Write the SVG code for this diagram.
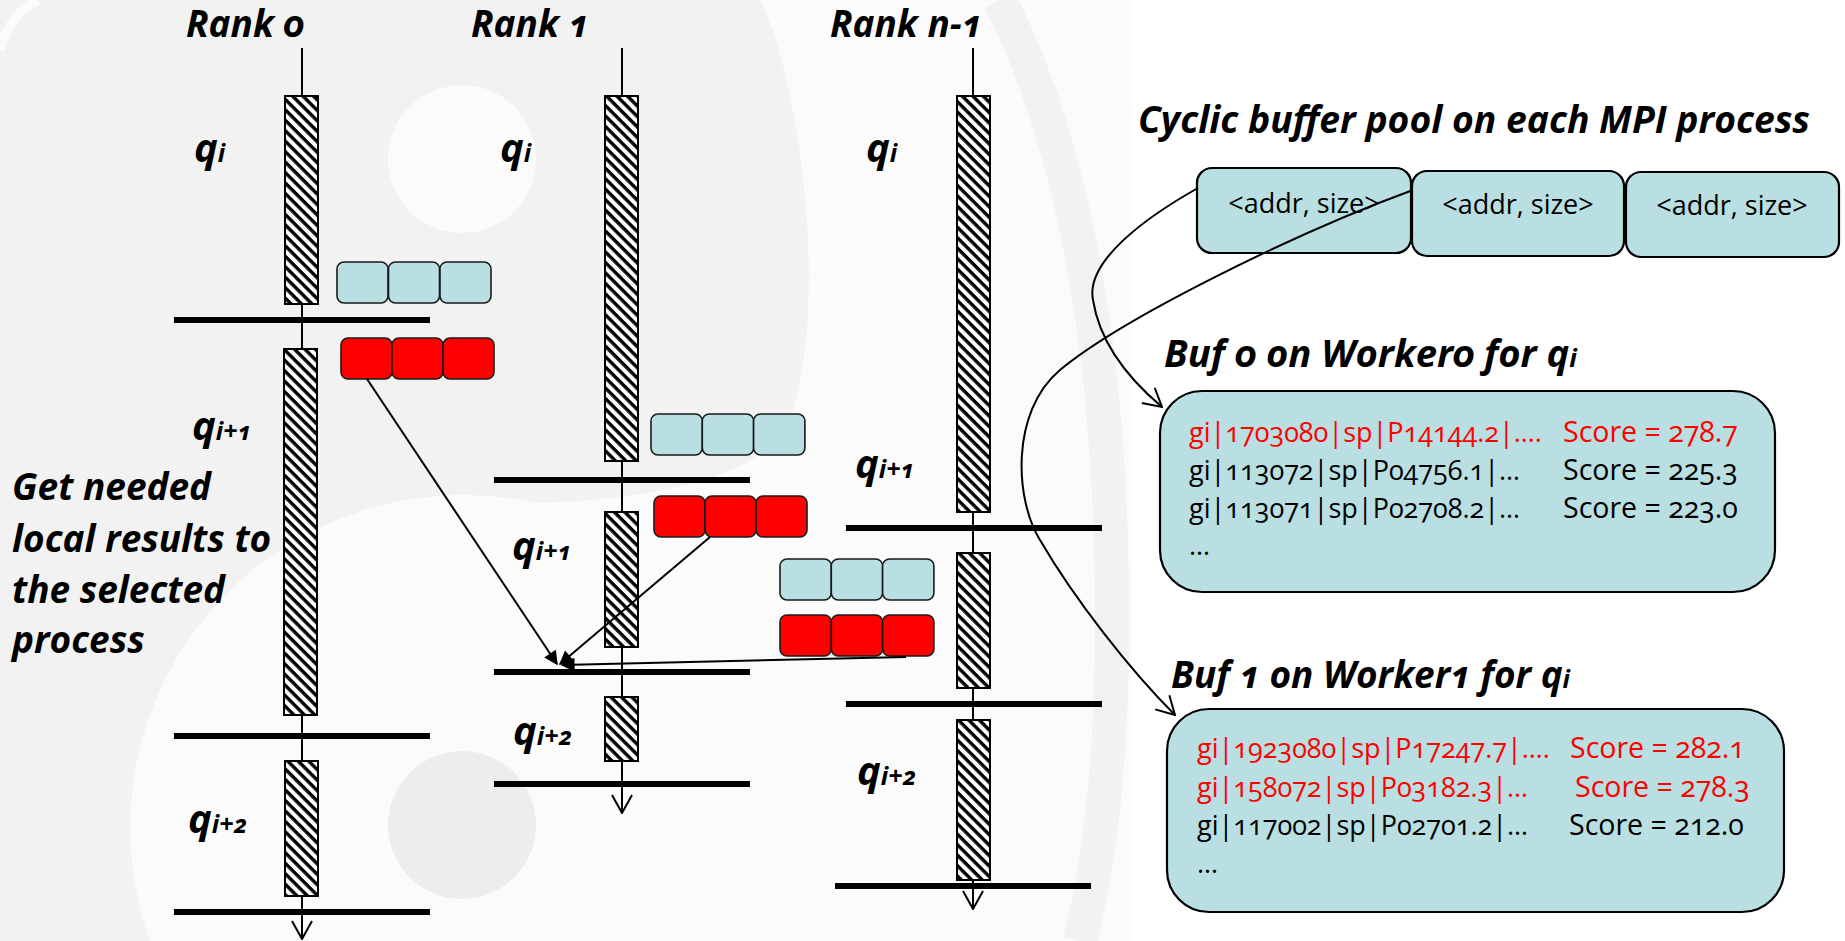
<svg xmlns="http://www.w3.org/2000/svg" width="1845" height="941" viewBox="0 0 1845 941">
<style>
.hd{font-family:"Open Sans","Liberation Sans",sans-serif;font-weight:700;font-style:italic;font-variant-numeric:oldstyle-nums;fill:#000}
.rank{font-size:37px}
.q{font-size:40px}
.sub{font-size:25px}
.note{font-size:37px}
.ttl{font-size:37px}
.body{font-family:"Open Sans","Liberation Sans",sans-serif;font-variant-numeric:oldstyle-nums;font-size:27px;fill:#000}
.score{font-size:28.5px}
.red{fill:#ff0000}
.lane{stroke:#000;stroke-width:2;fill:none}
.bar{fill:url(#hatch);stroke:#000;stroke-width:2}
.sync{stroke:#000;stroke-width:6}
.cyan{fill:#b9dfe2;stroke:#1a1a1a;stroke-width:1.6}
.redbox{fill:#ff0000;stroke:#1a1a1a;stroke-width:1.6}
.buf{fill:#b9dfe2;stroke:#000;stroke-width:2.2}
.link{stroke:#000;stroke-width:2;fill:none}
</style>
<defs>
<pattern id="hatch" width="7.4" height="7.4" patternUnits="userSpaceOnUse" patternTransform="rotate(45)">
<rect width="7.4" height="7.4" fill="#fff"/>
<rect width="7.4" height="3.4" fill="#000"/>
</pattern>
<marker id="vee" viewBox="0 0 20 22" refX="19" refY="11" markerWidth="20" markerHeight="22" markerUnits="userSpaceOnUse" orient="auto">
<path d="M1,1 L19,11 L1,21" fill="none" stroke="#000" stroke-width="2"/>
</marker>
<marker id="solid" viewBox="0 0 10 10" refX="9" refY="5" markerWidth="18" markerHeight="14" markerUnits="userSpaceOnUse" orient="auto">
<path d="M0,0 L10,5 L0,10 Z" fill="#000"/>
</marker>
</defs>

<!-- faint yin-yang backdrop on the left part of the slide -->
<g id="backdrop">
<rect x="0" y="0" width="1132" height="941" fill="#f2f2f2"/>
<path d="M760,0 C800,80 830,300 790,420 C760,480 650,500 536,503 A333,333 0 0 0 150,941 L1132,941 L1132,0 Z" fill="#fbfbfb"/>
<path d="M1000,0 C1075,150 1110,350 1112,600 C1113,760 1100,860 1080,941" fill="none" stroke="#f2f2f2" stroke-width="34"/>
<path d="M0,50 Q10,14 38,0" fill="none" stroke="#fbfbfb" stroke-width="10"/>
<circle cx="462" cy="159" r="74" fill="#fbfbfb"/>
<circle cx="462" cy="825" r="74" fill="#ededed"/>
</g>

<g id="rank0">
<text class="hd rank" x="245" y="37" text-anchor="middle">Rank 0</text>
<line class="lane" x1="302" y1="48" x2="302" y2="939" marker-end="url(#vee)"/>
<line class="sync" x1="174" y1="320" x2="430" y2="320"/>
<line class="sync" x1="174" y1="736" x2="430" y2="736"/>
<line class="sync" x1="174" y1="912" x2="430" y2="912"/>
<rect class="bar" x="285" y="96" width="33" height="208"/>
<rect class="bar" x="284" y="349" width="33" height="366"/>
<rect class="bar" x="285" y="761" width="33" height="135"/>
<text class="hd q" x="194" y="162">q<tspan class="sub">i</tspan></text>
<text class="hd q" x="192" y="440">q<tspan class="sub">i+1</tspan></text>
<text class="hd q" x="188" y="833">q<tspan class="sub">i+2</tspan></text>
</g>

<g id="rank0-buffers">
<rect class="cyan" x="337" y="262" width="51" height="41" rx="7"/>
<rect class="cyan" x="388.5" y="262" width="51" height="41" rx="7"/>
<rect class="cyan" x="440" y="262" width="51" height="41" rx="7"/>
<rect class="redbox" x="341" y="338" width="51" height="41" rx="7"/>
<rect class="redbox" x="392" y="338" width="51" height="41" rx="7"/>
<rect class="redbox" x="443" y="338" width="51" height="41" rx="7"/>
</g>

<g id="rank1">
<text class="hd rank" x="530" y="37" text-anchor="middle">Rank 1</text>
<line class="lane" x1="622" y1="48" x2="622" y2="813" marker-end="url(#vee)"/>
<line class="sync" x1="494" y1="480" x2="750" y2="480"/>
<line class="sync" x1="494" y1="672" x2="750" y2="672"/>
<line class="sync" x1="494" y1="784" x2="750" y2="784"/>
<rect class="bar" x="605" y="96" width="33" height="365"/>
<rect class="bar" x="605" y="512" width="33" height="135"/>
<rect class="bar" x="605" y="697" width="33" height="64"/>
<text class="hd q" x="500" y="162">q<tspan class="sub">i</tspan></text>
<text class="hd q" x="512" y="560">q<tspan class="sub">i+1</tspan></text>
<text class="hd q" x="513" y="745">q<tspan class="sub">i+2</tspan></text>
</g>

<g id="rank1-buffers">
<rect class="cyan" x="651" y="414" width="51.3" height="41" rx="7"/>
<rect class="cyan" x="702.3" y="414" width="51.3" height="41" rx="7"/>
<rect class="cyan" x="753.6" y="414" width="51.3" height="41" rx="7"/>
<rect class="redbox" x="654" y="496" width="51" height="41" rx="7"/>
<rect class="redbox" x="705" y="496" width="51" height="41" rx="7"/>
<rect class="redbox" x="756" y="496" width="51" height="41" rx="7"/>
</g>

<g id="rankn1">
<text class="hd rank" x="906" y="37" text-anchor="middle">Rank n-1</text>
<line class="lane" x1="973" y1="48" x2="973" y2="909" marker-end="url(#vee)"/>
<line class="sync" x1="846" y1="528" x2="1102" y2="528"/>
<line class="sync" x1="846" y1="704" x2="1102" y2="704"/>
<line class="sync" x1="835" y1="886" x2="1091" y2="886"/>
<rect class="bar" x="957" y="96" width="33" height="416"/>
<rect class="bar" x="957" y="553" width="33" height="135"/>
<rect class="bar" x="957" y="720" width="33" height="160"/>
<text class="hd q" x="866" y="162">q<tspan class="sub">i</tspan></text>
<text class="hd q" x="855" y="478">q<tspan class="sub">i+1</tspan></text>
<text class="hd q" x="857" y="785">q<tspan class="sub">i+2</tspan></text>
</g>

<g id="rankn1-buffers">
<rect class="cyan" x="780" y="559" width="51.3" height="41" rx="7"/>
<rect class="cyan" x="831.3" y="559" width="51.3" height="41" rx="7"/>
<rect class="cyan" x="882.6" y="559" width="51.3" height="41" rx="7"/>
<rect class="redbox" x="780" y="615" width="51.3" height="41" rx="7"/>
<rect class="redbox" x="831.3" y="615" width="51.3" height="41" rx="7"/>
<rect class="redbox" x="882.6" y="615" width="51.3" height="41" rx="7"/>
</g>

<g id="gather-note">
<text class="hd note" x="12" y="500">Get needed</text>
<text class="hd note" x="12" y="552">local results to</text>
<text class="hd note" x="12" y="603">the selected</text>
<text class="hd note" x="12" y="653">process</text>
</g>

<g id="buffer-pool">
<text class="hd ttl" x="1138" y="133" textLength="672" lengthAdjust="spacingAndGlyphs">Cyclic buffer pool on each MPI process</text>
<rect class="buf" x="1197" y="168" width="214" height="85" rx="15"/>
<rect class="buf" x="1412" y="171" width="212" height="85" rx="15"/>
<rect class="buf" x="1626" y="172" width="213" height="85" rx="15"/>
<text class="body" x="1304" y="213" text-anchor="middle">&lt;addr, size&gt;</text>
<text class="body" x="1518" y="214" text-anchor="middle">&lt;addr, size&gt;</text>
<text class="body" x="1732" y="215" text-anchor="middle">&lt;addr, size&gt;</text>
</g>

<g id="buf0">
<text class="hd ttl" x="1164" y="367" textLength="413" lengthAdjust="spacingAndGlyphs">Buf 0 on Worker0 for q<tspan class="sub">i</tspan></text>
<rect class="buf" x="1160" y="391" width="615" height="201" rx="42"/>
<text class="body red" x="1189" y="442">gi|1703080|sp|P14144.2|….</text>
<text class="body score red" x="1563" y="442">Score = 278.7</text>
<text class="body" x="1189" y="480">gi|113072|sp|P04756.1|…</text>
<text class="body score" x="1563" y="480">Score = 225.3</text>
<text class="body" x="1189" y="518">gi|113071|sp|P02708.2|…</text>
<text class="body score" x="1563" y="518">Score = 223.0</text>
<text class="body" x="1189" y="555">…</text>
</g>

<g id="buf1">
<text class="hd ttl" x="1171" y="688" textLength="399" lengthAdjust="spacingAndGlyphs">Buf 1 on Worker1 for q<tspan class="sub">i</tspan></text>
<rect class="buf" x="1167" y="709" width="617" height="203" rx="42"/>
<text class="body red" x="1197" y="758">gi|1923080|sp|P17247.7|….</text>
<text class="body score red" x="1570" y="758">Score = 282.1</text>
<text class="body red" x="1197" y="797">gi|158072|sp|P03182.3|…</text>
<text class="body score red" x="1575" y="797">Score = 278.3</text>
<text class="body" x="1197" y="835">gi|117002|sp|P02701.2|…</text>
<text class="body score" x="1569" y="835">Score = 212.0</text>
<text class="body" x="1197" y="873">…</text>
</g>

<g id="connectors">
<path class="link" d="M367,379 L557,664" marker-end="url(#solid)"/>
<path class="link" d="M710,537 L560,664" marker-end="url(#solid)"/>
<path class="link" d="M906,657 L562,665" marker-end="url(#solid)"/>
<path class="link" d="M1198,188 C1150,215 1085,260 1093,300 C1100,345 1130,380 1162,407" marker-end="url(#vee)"/>
<path class="link" d="M1413,190 C1290,235 1120,320 1060,370 C1010,412 1015,500 1040,540 C1075,600 1130,670 1175,715" marker-end="url(#vee)"/>
</g>
</svg>
